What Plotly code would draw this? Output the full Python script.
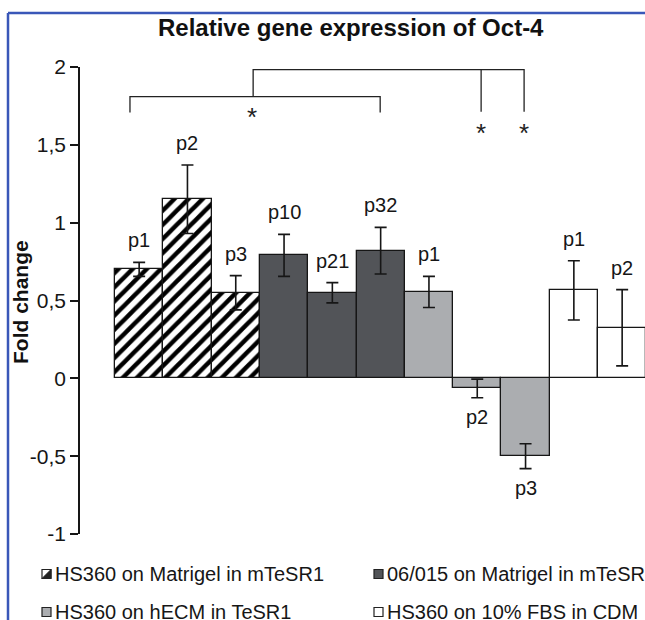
import plotly.graph_objects as go

# ---------------- data ----------------
bar_labels = ["p1", "p2", "p3", "p10", "p21", "p32", "p1", "p2", "p3", "p1", "p2"]
fold_change = [0.70, 1.15, 0.55, 0.79, 0.55, 0.82, 0.555, -0.065, -0.50, 0.565, 0.325]
fold_error = [0.045, 0.22, 0.11, 0.135, 0.065, 0.15, 0.10, 0.06, 0.08, 0.19, 0.245]
bar_group = [0, 0, 0, 1, 1, 1, 2, 2, 2, 3, 3]
group_names = [
    "HS360 on Matrigel in mTeSR1",
    "06/015 on Matrigel in mTeSR1",
    "HS360 on hECM in TeSR1",
    "HS360 on 10% FBS in CDM",
]
tick_values = [2, 1.5, 1, 0.5, 0, -0.5, -1]
tick_labels = ["2", "1,5", "1", "0,5", "0", "-0,5", "-1"]
title_text = "Relative gene expression of Oct-4"
y_title = "Fold change"

# ---------------- style ----------------
W, H = 645, 620
ML, MR, MT, MB = 80, 0, 67, 86
group_colors = ["white", "#525458", "#abadb0", "white"]
group_patterns = ["/", "", "", ""]
FONT = "Liberation Sans, Arial, sans-serif"
INK = "#161616"

def px_x(p):  # pixel -> paper x
    return (p - ML) / (W - ML - MR)

def px_y(p):  # pixel -> paper y
    return (H - MB - p) / (H - MT - MB)

fig = go.Figure()
for g, name in enumerate(group_names):
    idx = [i for i, bg in enumerate(bar_group) if bg == g]
    fig.add_trace(go.Bar(
        x=idx,
        y=[fold_change[i] for i in idx],
        width=1,
        name=name,
        showlegend=False,
        marker=dict(
            color=group_colors[g],
            line=dict(color=INK, width=1.3),
            pattern=dict(shape=group_patterns[g], fgcolor="#000000", fgopacity=1,
                         bgcolor="white", size=10, solidity=0.45),
        ),
        error_y=dict(type="data", array=[fold_error[i] for i in idx],
                     color=INK, thickness=1.6, width=6),
    ))

annotations = []
for i, lab in enumerate(bar_labels):
    v, e = fold_change[i], fold_error[i]
    if v >= 0:
        annotations.append(dict(x=i, y=v + e, text=lab, showarrow=False,
                                yanchor="middle", yshift=22,
                                font=dict(size=20, color=INK, family=FONT)))
    else:
        annotations.append(dict(x=i, y=v - e, text=lab, showarrow=False,
                                yanchor="middle", yshift=-19,
                                font=dict(size=20, color=INK, family=FONT)))

# title & axis title
annotations.append(dict(xref="paper", yref="paper", x=px_x(351), y=px_y(27),
                        text="<b>" + title_text + "</b>", showarrow=False,
                        xanchor="center", yanchor="middle",
                        font=dict(size=24, color="#111111", family=FONT)))
annotations.append(dict(xref="paper", yref="paper", x=px_x(20), y=px_y(302),
                        text="<b>" + y_title + "</b>", showarrow=False, textangle=-90,
                        xanchor="center", yanchor="middle",
                        font=dict(size=21, color="#111111", family=FONT)))

# significance brackets (data coords)
line_kw = dict(color="#222222", width=1.3)
shapes = []
brackets = [
    [(-0.19, 1.707), (-0.19, 1.81), (4.99, 1.81), (4.99, 1.707)],
    [(2.36, 1.81), (2.36, 1.983), (7.97, 1.983), (7.97, 1.713)],
    [(7.08, 1.983), (7.08, 1.713)],
]
for pts in brackets:
    path = "M " + " L ".join(f"{x},{y}" for x, y in pts)
    shapes.append(dict(type="path", xref="x", yref="y", path=path, line=line_kw))
for sx, sy in [(2.34, 1.68), (7.08, 1.575), (7.97, 1.575)]:
    annotations.append(dict(x=sx, y=sy, text="*", showarrow=False,
                            yanchor="middle",
                            font=dict(size=26, color="#222222", family=FONT)))

# manual legend
leg_pos = [(42, 574), (374, 574), (42, 612), (374, 612)]
for g, (lx, ly) in enumerate(leg_pos):
    shapes.append(dict(type="rect", xref="paper", yref="paper",
                       x0=px_x(lx), x1=px_x(lx + 9), y0=px_y(ly + 4.5), y1=px_y(ly - 4.5),
                       fillcolor=group_colors[g], line=dict(color="#222222", width=1.2)))
    if group_patterns[g]:
        shapes.append(dict(type="path", xref="paper", yref="paper",
                           path=f"M {px_x(lx)},{px_y(ly + 4.5)} L {px_x(lx + 9)},{px_y(ly - 4.5)} L {px_x(lx + 9)},{px_y(ly + 4.5)} Z",
                           fillcolor="#222222", line=dict(color="#222222", width=1)))
    annotations.append(dict(xref="paper", yref="paper", x=px_x(lx + 11), y=px_y(ly),
                            text=group_names[g], showarrow=False,
                            xanchor="left", yanchor="middle",
                            font=dict(size=20, color=INK, family=FONT)))

# blue frame of the cropped figure
blue = dict(color="#3a57b8", width=2.5)
shapes.append(dict(type="line", xref="paper", yref="paper",
                   x0=px_x(8), x1=px_x(650), y0=px_y(13), y1=px_y(13), line=blue))
shapes.append(dict(type="line", xref="paper", yref="paper",
                   x0=px_x(8), x1=px_x(8), y0=px_y(13), y1=px_y(625), line=blue))

fig.update_layout(
    width=W, height=H,
    margin=dict(l=ML, r=MR, t=MT, b=MB),
    paper_bgcolor="white", plot_bgcolor="white",
    barmode="overlay",
    bargap=0,
    xaxis=dict(range=[-1.2246, 10.473], visible=False, fixedrange=True),
    yaxis=dict(range=[-1, 2], showgrid=False, zeroline=False,
               showline=True, linecolor=INK, linewidth=1.5,
               ticks="outside", ticklen=8, tickwidth=1.5, tickcolor=INK,
               tickvals=tick_values, ticktext=tick_labels,
               tickfont=dict(size=21, color=INK, family=FONT)),
    annotations=annotations,
    shapes=shapes,
    showlegend=False,
)

fig.write_html("out.html")
